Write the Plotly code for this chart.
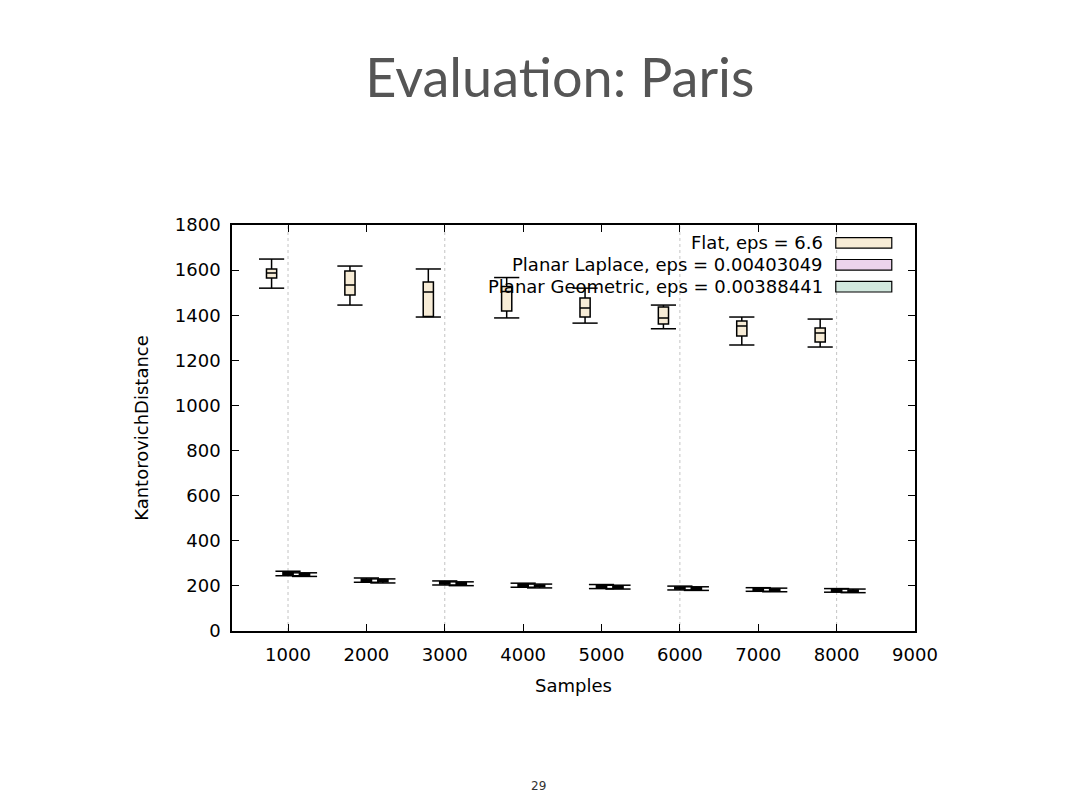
import plotly.graph_objects as go

samples = [1000, 2000, 3000, 4000, 5000, 6000, 7000, 8000]

# Flat, eps = 6.6
flat_lo = [1520, 1445, 1392, 1388, 1365, 1340, 1268, 1259]
flat_q1 = [1565, 1490, 1394, 1419, 1392, 1361, 1308, 1281]
flat_med = [1587, 1534, 1503, 1505, 1432, 1388, 1352, 1321]
flat_q3 = [1605, 1596, 1547, 1527, 1476, 1436, 1374, 1343]
flat_hi = [1649, 1618, 1605, 1567, 1520, 1445, 1392, 1383]

# Planar Laplace, eps = 0.00403049
lap_lo = [245, 216, 204, 194, 188, 182, 176, 172]
lap_q1 = [250, 221, 208, 198, 192, 186, 180, 176]
lap_med = [255, 226, 213, 203, 197, 190, 184, 180]
lap_q3 = [260, 231, 218, 208, 202, 195, 188, 184]
lap_hi = [265, 235, 222, 212, 206, 199, 192, 188]

# Planar Geometric, eps = 0.00388441
geo_lo = [242, 213, 201, 191, 186, 180, 174, 170]
geo_q1 = [246, 218, 206, 196, 190, 184, 178, 174]
geo_med = [250, 222, 210, 200, 195, 188, 182, 178]
geo_q3 = [254, 227, 214, 204, 199, 192, 186, 182]
geo_hi = [258, 231, 218, 208, 203, 196, 190, 186]

series = [
    ('Flat, eps = 6.6', '#f7ecd6', -210, flat_lo, flat_q1, flat_med, flat_q3, flat_hi),
    ('Planar Laplace, eps = 0.00403049', '#ecd3ec', 0, lap_lo, lap_q1, lap_med, lap_q3, lap_hi),
    ('Planar Geometric, eps = 0.00388441', '#d2e8de', 210, geo_lo, geo_q1, geo_med, geo_q3, geo_hi),
]

font = 'DejaVu Sans'
fig = go.Figure()

for name, color, off, lo, q1, med, q3, hi in series:
    xs = [s + off for s in samples]
    fig.add_trace(go.Box(
        x=xs, lowerfence=lo, q1=q1, median=med, q3=q3, upperfence=hi,
        width=130, whiskerwidth=0, fillcolor=color,
        line=dict(color='black', width=1.5), name=name, showlegend=False,
        boxpoints=False))
    # whisker caps
    fig.add_trace(go.Scatter(
        x=xs + xs, y=lo + hi, mode='markers', showlegend=False, hoverinfo='skip',
        marker=dict(symbol='line-ew', size=18, line=dict(color='black', width=1.5))))

# dotted vertical grid lines as seen in the slide
for gx in [1000, 3000, 6000, 8000]:
    fig.add_vline(x=gx, line=dict(color='#c4c4c4', width=1, dash='dot'), layer='below')

# gnuplot-style key, text right aligned with the swatch on the right
for i, (name, color, *_rest) in enumerate(series):
    y = 0.956 - i * 0.054
    fig.add_annotation(xref='paper', yref='paper', x=0.868, y=y, text=name,
                       showarrow=False, xanchor='right', yanchor='middle',
                       font=dict(family=font, size=18, color='black'))
    fig.add_shape(type='rect', xref='paper', yref='paper',
                  x0=0.884, x1=0.966, y0=y - 0.013, y1=y + 0.013,
                  fillcolor=color, line=dict(color='black', width=1.2))

# page offset of 8px in the html body is compensated in the margins
fig.update_layout(
    width=1080, height=809,
    paper_bgcolor='white', plot_bgcolor='white',
    margin=dict(l=224, r=173, t=217, b=186),
    boxmode='overlay',
    font=dict(family=font, size=18, color='black'),
    title=dict(text='Evaluation: Paris', x=0.511, xanchor='center', y=0.913, yanchor='middle',
               font=dict(family='Lato', size=54, color='#555555')),
    annotations=list(fig.layout.annotations) + [
        dict(xref='paper', yref='paper', x=0.449, y=-0.404, text='29', showarrow=False,
             font=dict(family=font, size=12, color='#333333'))],
)

fig.update_xaxes(
    range=[285, 9000], tickvals=[1000, 2000, 3000, 4000, 5000, 6000, 7000, 8000, 9000],
    ticks='inside', ticklen=7, tickcolor='black', mirror='ticks',
    showline=True, linecolor='black', linewidth=1.5, showgrid=False, zeroline=False,
    title=dict(text='Samples', font=dict(size=18), standoff=15), ticklabelstandoff=7)
fig.update_yaxes(
    range=[0, 1800], dtick=200,
    ticks='inside', ticklen=7, tickcolor='black', mirror='ticks',
    showline=True, linecolor='black', linewidth=1.5, showgrid=False, zeroline=False,
    title=dict(text='KantorovichDistance', font=dict(size=18), standoff=22), ticklabelstandoff=6)

fig.write_html('out.html')
